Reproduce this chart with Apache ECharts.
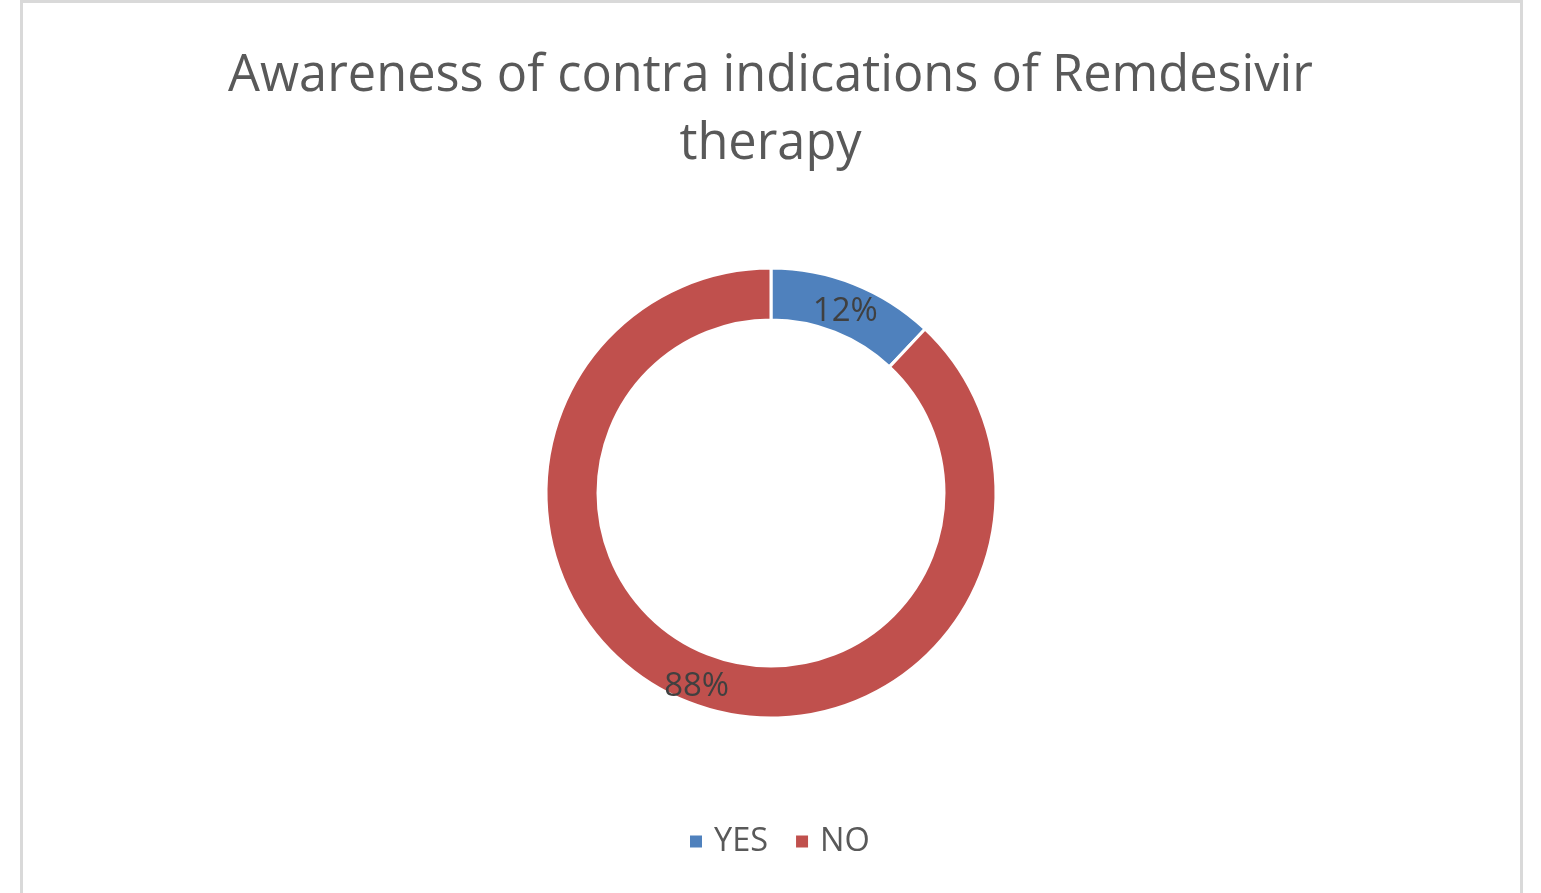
<!DOCTYPE html>
<html><head><meta charset="utf-8">
<script src="https://cdn.jsdelivr.net/npm/echarts@6/dist/echarts.min.js"></script>
<style>html,body{margin:0;padding:0;background:#fff}#c{width:1541px;height:893px}</style>
</head><body><div id="c"></div>
<script>
const titleText = 'Awareness of contra indications of Remdesivir\ntherapy';
const categories = ['YES', 'NO'];
const values = [12, 88];
const colors = ['#4f81bd', '#c0504d'];

const chart = echarts.init(document.getElementById('c'));
chart.setOption({
  backgroundColor: '#fff',
  animation: false,
  graphic: [{
    type: 'rect', shape: { x: 21.5, y: 1.5, width: 1500, height: 900 },
    style: { fill: 'none', stroke: '#d9d9d9', lineWidth: 3 }, silent: true
  }],
  title: {
    text: titleText, left: 'center', top: 38,
    textStyle: { fontFamily: 'Open Sans', fontSize: 50.5, fontWeight: 'normal', color: '#595959', lineHeight: 68 }
  },
  legend: {
    data: categories, bottom: 30, left: 683, icon: 'rect', itemWidth: 14, itemHeight: 14, itemGap: 26,
    textStyle: { fontFamily: 'Open Sans', fontSize: 32.5, color: '#595959', padding: [0, 0, 0, 6] }
  },
  series: [{
    type: 'pie', center: [771, 493], radius: [173, 225], startAngle: 90, clockwise: true,
    avoidLabelOverlap: false,
    itemStyle: { borderColor: '#fff', borderWidth: 3 },
    label: { show: true, position: 'inside', formatter: p => p.value + '%', fontFamily: 'Open Sans', fontSize: 33, color: '#404040', offset: [0, 6] },
    labelLine: { show: false },
    data: categories.map((c, i) => ({ name: c, value: values[i], itemStyle: { color: colors[i] } }))
  }]
});
</script></body></html>
